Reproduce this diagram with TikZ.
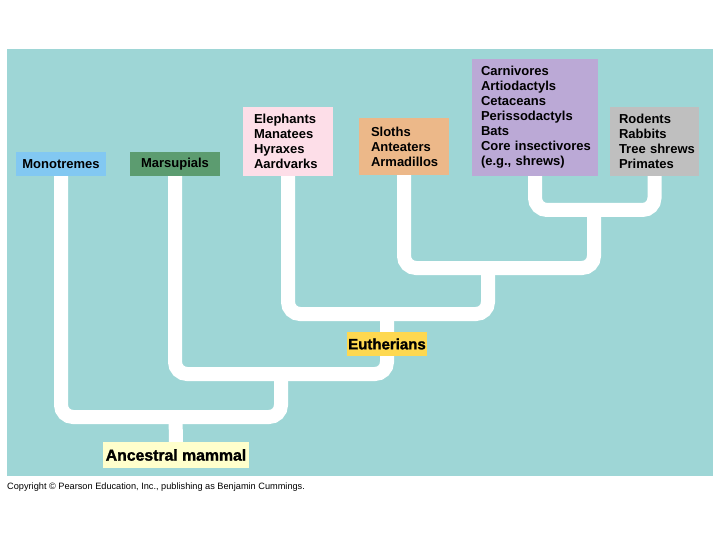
\documentclass[tikz,border=0pt]{standalone}
\usepackage{fontspec}
\setmainfont{Liberation Sans}
\newfontfamily\heavyfont[BoldFeatures={FakeBold=1.5}]{Liberation Sans}
\usepackage{xcolor}
\usetikzlibrary{positioning}
\definecolor{seabg}{RGB}{158,214,214}
\definecolor{monoblue}{RGB}{130,200,242}
\definecolor{marsgreen}{RGB}{92,156,112}
\definecolor{elephpink}{RGB}{253,222,232}
\definecolor{slothorange}{RGB}{236,184,137}
\definecolor{carnpurple}{RGB}{187,169,214}
\definecolor{rodgray}{RGB}{191,191,191}
\definecolor{euthyellow}{RGB}{254,216,80}
\definecolor{ancyellow}{RGB}{255,255,204}
\pgfdeclarelayer{backdrop}
\pgfdeclarelayer{tree}
\pgfsetlayers{backdrop,tree,main}

\begin{document}
\begin{tikzpicture}[
            x=1pt, y=-1pt,
            font=\fontsize{13}{15}\selectfont\bfseries,
            taxon/.style={
                    anchor=north west, inner sep=0pt, outer sep=0pt,
                    minimum height=24pt
                },
            group/.style={
                    taxon, align=left, % left aligned lists, never broken
                    inner xsep=10pt,
                    execute at begin node={\hyphenpenalty=10000 \exhyphenpenalty=10000 \hbadness=10000 \hfuzz=20pt}
                },
            clade/.style={
                    anchor=center, inner sep=0pt, outer sep=0pt,
                    font=\fontsize{15}{17}\selectfont\heavyfont\bfseries
                },
            branch/.style={draw=white, line width=14pt, rounded corners=12pt},
            ]

            \useasboundingbox (0,0) rectangle (720,540);
            \begin{pgfonlayer}{backdrop}
                \fill[seabg] (7,49) rectangle (713,476);
            \end{pgfonlayer}

            % tips of the tree
            \node[taxon, fill=monoblue, minimum width=90pt] (mono) at (16,152) {Monotremes};
            \node[taxon, fill=marsgreen, minimum width=90pt] (mars) at (130,152) {Marsupials};
            \node[group, fill=elephpink, text width=68pt, inner xsep=11pt, minimum height=69pt] (eleph) at (243,107)
                {Elephants\\Manatees\\Hyraxes\\Aardvarks};
            \node[group, fill=slothorange, text width=66pt, inner xsep=12pt, minimum height=57pt] (sloth) at (359,118)
                {Sloths\\Anteaters\\Armadillos};
            \node[group, fill=carnpurple, text width=108pt, inner xsep=9pt, minimum height=117pt] (carn) at (472,59)
                {Carnivores\\Artiodactyls\\Cetaceans\\Perissodactyls\\Bats\\Core~insectivores\\(e.g.,~shrews)};
            \node[group, fill=rodgray, text width=71pt, inner xsep=9pt, minimum height=69pt] (rod) at (610,107)
                {Rodents\\Rabbits\\Tree~shrews\\Primates};

            % branching points
            \coordinate (j1) at (594,210);
            \coordinate (j2) at (488,268);
            \coordinate (j3) at (387,314);
            \coordinate (j4) at (281,374);
            \coordinate (j5) at (175.5,417);

            \node[clade, fill=euthyellow, minimum width=80pt, minimum height=24pt] (euth) at (387,344) {Eutherians};
            \node[clade, fill=ancyellow, minimum width=146pt, minimum height=26pt, font=\fontsize{15.8}{17}\selectfont\heavyfont\bfseries] (anc) at (176,455) {Ancestral mammal};

            \begin{pgfonlayer}{tree}
                \draw[branch] (carn.south) |- (j1) -| (rod.south);
                \draw[branch] (sloth.south) |- (j2) -| (j1);
                \draw[branch] (eleph.south) |- (j3) -| (j2);
                \draw[branch] (mars.south) |- (j4) -| (j3);
                \draw[branch] (mono.south) |- (j5) -| (j4);
                \draw[branch] (j5) -- (anc.north);
            \end{pgfonlayer}

            \node[anchor=west, inner sep=0pt, font=\fontsize{9.2}{11}\selectfont] (copy) at (7,487)
                {Copyright \textcopyright\ Pearson Education, Inc., publishing as Benjamin Cummings.};
        \end{tikzpicture}
\end{document}
